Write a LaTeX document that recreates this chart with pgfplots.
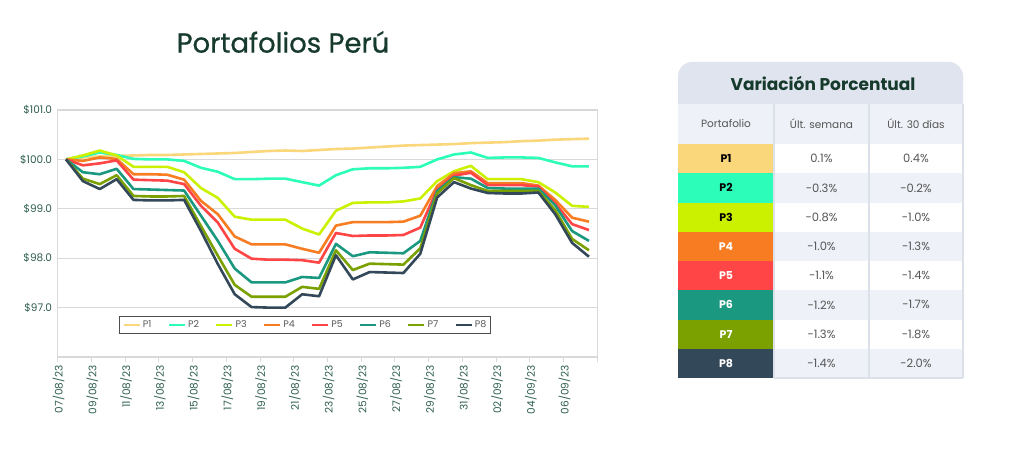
\documentclass[border=0pt]{standalone}
\usepackage{fontspec}
\setmainfont{Poppins}
\newfontfamily\titlefont[FakeBold=0.7]{Poppins}
\usepackage{pgfplots}
\usepackage{pgfplotstable}
\pgfplotsset{compat=1.18}

\definecolor{cP1}{HTML}{FBD77C}
\definecolor{cP2}{HTML}{2CFDB8}
\definecolor{cP3}{HTML}{CBF000}
\definecolor{cP4}{HTML}{F87D22}
\definecolor{cP5}{HTML}{FF4545}
\definecolor{cP6}{HTML}{1B9880}
\definecolor{cP7}{HTML}{7AA100}
\definecolor{cP8}{HTML}{33495A}
\definecolor{gridc}{HTML}{D9D9D9}
\definecolor{labc}{HTML}{2E5E4E}
\definecolor{titlec}{HTML}{163A2C}
\definecolor{legc}{HTML}{4D4D4D}
\definecolor{legtext}{HTML}{5A5A5A}
\definecolor{hdr}{HTML}{E0E4EE}
\definecolor{rowl}{HTML}{EEF1F7}
\definecolor{sepc}{HTML}{DCE0E8}
\definecolor{valc}{HTML}{555555}

\pgfplotstableread{
i P1 P2 P3 P4 P5 P6 P7 P8
0 100.00 100.00 100.00 100.00 100.00 100.00 100.00 100.00
1 100.04 100.06 100.08 99.97 99.88 99.74 99.61 99.56
2 100.06 100.14 100.18 100.04 99.92 99.70 99.50 99.40
3 100.07 100.09 100.08 100.01 99.98 99.81 99.68 99.60
4 100.08 100.01 99.85 99.70 99.59 99.40 99.26 99.18
5 100.09 100.00 99.85 99.70 99.58 99.39 99.25 99.17
6 100.09 100.00 99.85 99.69 99.57 99.38 99.25 99.17
7 100.10 99.97 99.74 99.59 99.50 99.37 99.26 99.18
8 100.11 99.83 99.42 99.16 99.06 98.86 98.65 98.55
9 100.12 99.75 99.22 98.89 98.72 98.35 98.05 97.88
10 100.13 99.60 98.84 98.44 98.19 97.79 97.46 97.27
11 100.15 99.60 98.78 98.28 97.99 97.51 97.22 97.01
12 100.17 99.61 98.78 98.28 97.97 97.51 97.22 97.00
13 100.18 99.61 98.78 98.28 97.97 97.51 97.22 97.00
14 100.17 99.54 98.60 98.19 97.96 97.62 97.42 97.27
15 100.19 99.47 98.48 98.11 97.91 97.60 97.38 97.23
16 100.21 99.68 98.96 98.66 98.51 98.29 98.16 98.06
17 100.22 99.80 99.12 98.73 98.45 98.04 97.76 97.57
18 100.24 99.82 99.13 98.73 98.46 98.12 97.89 97.72
19 100.26 99.82 99.13 98.73 98.46 98.11 97.88 97.71
20 100.28 99.83 99.15 98.74 98.47 98.10 97.87 97.70
21 100.29 99.85 99.21 98.86 98.62 98.35 98.20 98.09
22 100.30 100.00 99.56 99.46 99.39 99.36 99.31 99.23
23 100.31 100.10 99.76 99.72 99.67 99.64 99.62 99.54
24 100.33 100.14 99.87 99.76 99.73 99.61 99.48 99.41
25 100.34 100.03 99.60 99.52 99.48 99.42 99.36 99.32
26 100.35 100.04 99.60 99.52 99.48 99.41 99.36 99.31
27 100.37 100.04 99.60 99.52 99.48 99.41 99.36 99.31
28 100.38 100.03 99.54 99.47 99.45 99.41 99.36 99.33
29 100.40 99.94 99.33 99.18 99.11 99.07 98.97 98.89
30 100.41 99.86 99.06 98.82 98.69 98.55 98.39 98.31
31 100.42 99.86 99.04 98.74 98.57 98.35 98.16 98.03
}\datatable

\begin{document}
\begin{tikzpicture}
\useasboundingbox (0pt,0pt) rectangle (1024pt,448pt);
\fill[white] (0pt,0pt) rectangle (1024pt,448pt);

\node[text=titlec, font=\titlefont\fontsize{27.5}{31}\selectfont] at (283pt,406pt) {Portafolios Perú};

\begin{axis}[
  at={(57.6pt,91pt)}, anchor=south west,
  scale only axis, width=539.8pt, height=247pt,
  xmin=-0.5, xmax=31.5, ymin=96, ymax=101,
  xtick={-0.5,1.5,3.5,5.5,7.5,9.5,11.5,13.5,15.5,17.5,19.5,21.5,23.5,25.5,27.5,29.5,31.5},
  xticklabels={07/08/23,09/08/23,11/08/23,13/08/23,15/08/23,17/08/23,19/08/23,21/08/23,23/08/23,25/08/23,27/08/23,29/08/23,31/08/23,02/09/23,04/09/23,06/09/23,{}},
  ytick={97,98,99,100,101},
  yticklabels={\$97.0,\$98.0,\$99.0,\$100.0,\$101.0},
  ymajorgrids, grid style={draw=gridc, line width=1.2pt},
  axis line style={draw=gridc, line width=1.2pt},
  tick pos=left, xtick align=outside, major tick length=5pt,
  ytick style={draw=none}, xtick style={draw=gridc, line width=1pt},
  xticklabel style={rotate=90, anchor=east, font=\fontsize{10.5}{11}\selectfont, text=labc, yshift=-1pt},
  yticklabel style={font=\fontsize{10.5}{11}\selectfont, text=labc, xshift=-2pt},
  legend style={at={(0.459,0.13)}, anchor=center, draw=legc, line width=0.9pt, fill=white,
    font=\fontsize{9.5}{10}\selectfont, text=legtext, inner sep=2.5pt,
    /tikz/every even column/.append style={column sep=14pt}},
  legend columns=8,
  legend image code/.code={\draw[#1, line width=2.6pt] (0pt,0pt) -- (16pt,0pt);},
  every axis plot/.append style={line width=2.6pt, line join=round, no markers},
  clip=false,
]
\addplot[cP1] table[x=i,y=P1] {\datatable};
\addplot[cP2] table[x=i,y=P2] {\datatable};
\addplot[cP3] table[x=i,y=P3] {\datatable};
\addplot[cP4] table[x=i,y=P4] {\datatable};
\addplot[cP5] table[x=i,y=P5] {\datatable};
\addplot[cP6] table[x=i,y=P6] {\datatable};
\addplot[cP7] table[x=i,y=P7] {\datatable};
\addplot[cP8] table[x=i,y=P8] {\datatable};
\legend{P1,P2,P3,P4,P5,P6,P7,P8}
\end{axis}

% table
\fill[hdr] (678pt,344pt) [rounded corners=14pt] -- (678pt,386pt) -- (963pt,386pt) [sharp corners] -- (963pt,344pt) -- cycle;
\node[text=titlec, font=\fontsize{17}{20}\bfseries] at (823pt,365pt) {Variación Porcentual};
\fill[rowl] (678pt,304pt) rectangle (963pt,344pt);
\foreach \k/\nm/\col/\tc/\a/\b in {0/P1/cP1/black/0.1\%/0.4\%,1/P2/cP2/black/-0.3\%/-0.2\%,2/P3/cP3/black/-0.8\%/-1.0\%,3/P4/cP4/white/-1.0\%/-1.3\%,4/P5/cP5/white/-1.1\%/-1.4\%,5/P6/cP6/white/-1.2\%/-1.7\%,6/P7/cP7/white/-1.3\%/-1.8\%,7/P8/cP8/white/-1.4\%/-2.0\%}{
  \pgfmathsetmacro{\yt}{304-29.25*\k}
  \pgfmathsetmacro{\yb}{304-29.25*(\k+1)}
  \pgfmathsetmacro{\ym}{304-29.25*(\k+0.5)}
  \pgfmathtruncatemacro{\odd}{mod(\k,2)}
  \ifnum\odd=1 \fill[rowl] (774pt,\yb pt) rectangle (963pt,\yt pt); \fi
  \fill[\col] (678pt,\yb pt) rectangle (774pt,\yt pt);
  \node[text=\tc, font=\fontsize{11}{13}\bfseries] at (726pt,\ym pt) {\nm};
  \node[text=valc, font=\fontsize{11.5}{13}\selectfont] at (821.5pt,\ym pt) {\a};
  \node[text=valc, font=\fontsize{11.5}{13}\selectfont] at (916pt,\ym pt) {\b};
}
\draw[sepc, line width=1.5pt] (774pt,70pt) -- (774pt,344pt);
\draw[sepc, line width=1.5pt] (869pt,70pt) -- (869pt,344pt);
\draw[sepc, line width=1.5pt] (963pt,70pt) -- (963pt,344pt);
\draw[sepc, line width=1.5pt] (774pt,70pt) -- (963pt,70pt);
\node[text=valc, font=\fontsize{10.5}{12}\selectfont] at (726pt,324pt) {Portafolio};
\node[text=valc, font=\fontsize{10.5}{12}\selectfont] at (821.5pt,324pt) {Últ. semana};
\node[text=valc, font=\fontsize{10.5}{12}\selectfont] at (916pt,324pt) {Últ. 30 días};
\end{tikzpicture}
\end{document}
